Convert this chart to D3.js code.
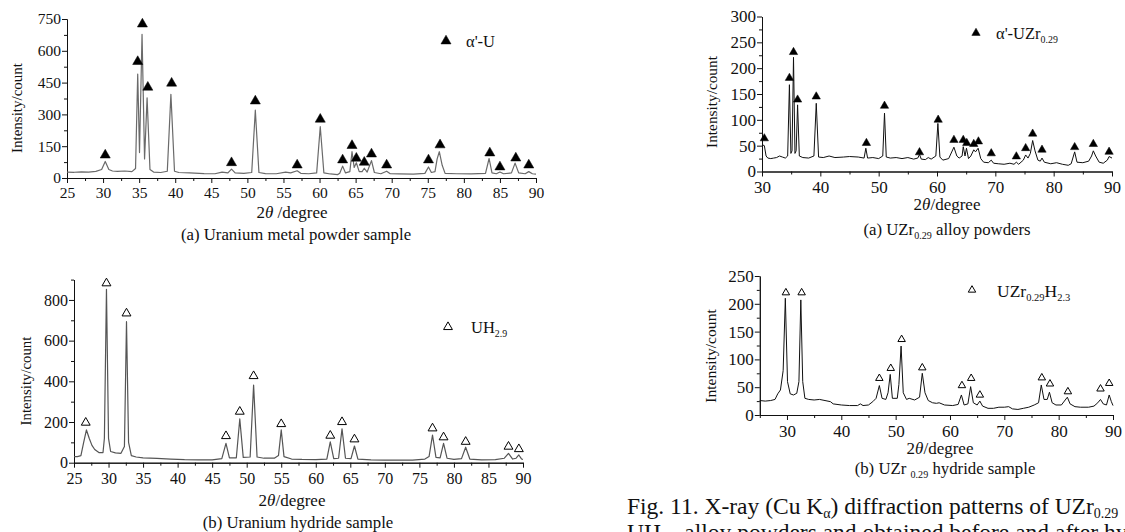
<!DOCTYPE html>
<html>
<head>
<meta charset="utf-8">
<script src="https://cdn.jsdelivr.net/npm/d3@7"></script>
<style>
body { margin: 0; background: #fff; }
svg text { font-family: "Liberation Serif", "DejaVu Serif", serif; fill: #111; }
</style>
</head>
<body>
<script>
// traced diffraction profiles, [2theta, intensity]
var uMetal = [[25,28],[26,27],[27,29],[28,28],[29,31],[29.8,40],[30.3,78],[30.8,40],[31.3,33],[32,31],[33,33],[34,30],[34.5,45],[34.8,490],[35.05,120],[35.4,678],[35.75,90],[36.1,378],[36.5,40],[37,28],[38,26],[38.9,32],[39.4,395],[39.9,32],[40.5,26],[42,24],[44,21],[45.5,20],[46.5,28],[47.3,24],[47.8,42],[48.3,24],[49.5,22],[50.6,26],[51.1,320],[51.6,26],[52.5,21],[54,20],[55.3,28],[56,24],[56.9,34],[57.4,22],[58.5,20],[59.6,24],[60.1,242],[60.6,24],[61.5,19],[62.5,16],[62.8,22],[63.2,56],[63.6,24],[64.2,30],[64.5,124],[64.8,50],[65.1,72],[65.5,30],[65.9,30],[66.2,46],[66.6,28],[67.2,82],[67.6,26],[68.5,20],[69.3,32],[69.8,20],[71,19],[73,18],[74.6,22],[75.1,52],[75.5,26],[76,30],[76.3,90],[76.6,124],[77,60],[77.4,22],[79,20],[81,19],[83,22],[83.5,92],[83.9,24],[84.5,20],[85,28],[85.5,20],[86.6,24],[87.1,70],[87.6,24],[88.5,20],[89,30],[89.5,20],[90,18]];
var uMetalPeaks = [[30.3,108],[34.8,549],[35.45,726],[36.2,428],[39.5,447],[47.8,72],[51.1,363],[56.9,61],[60.1,277],[63.2,85],[64.5,153],[65.1,93],[66.2,74],[67.2,113],[69.3,61],[75.1,85],[76.7,156],[83.6,118],[85.0,52],[87.2,94],[89.0,61]];

var uHydride = [[25,30],[25.5,30],[26,35],[26.4,100],[26.8,161],[27.2,120],[27.6,85],[28,65],[28.6,50],[29.2,50],[29.4,120],[29.7,852],[30.0,120],[30.3,55],[31,48],[31.8,46],[32.3,80],[32.6,693],[32.9,100],[33.3,35],[34,28],[35,24],[37,21],[39,18],[41,15],[43,14],[45,14],[46.4,20],[47,95],[47.5,24],[48.5,24],[49,215],[49.5,26],[50.5,28],[51,382],[51.5,28],[52.5,22],[54,22],[54.6,35],[55,161],[55.4,30],[56.5,18],[58,16],[60,15],[61.6,18],[62.1,102],[62.6,20],[63.3,22],[63.8,166],[64.3,22],[65.1,20],[65.6,82],[66.1,18],[68,14],[70,13],[72,13],[74,13],[75.8,18],[76.4,30],[76.9,136],[77.4,26],[78,24],[78.5,95],[79,22],[80,16],[81.1,20],[81.7,76],[82.3,18],[84,14],[86,15],[87.3,22],[87.9,46],[88.5,18],[89,22],[89.4,38],[89.8,18],[90,16]];
var uHydridePeaks = [[26.7,197],[29.7,882],[32.6,734],[47.0,131],[49.0,251],[51.0,426],[55.0,190],[62.1,133],[63.8,200],[65.6,115],[76.9,169],[78.5,125],[81.7,103],[87.9,79],[89.4,67]];

var alloy = [[30,52],[30.4,50],[30.7,30],[31,26],[31.5,25],[32,26],[32.5,27],[33,30],[33.5,28],[34,26],[34.4,30],[34.7,168],[34.95,35],[35.15,40],[35.4,221],[35.65,35],[35.85,40],[36.1,129],[36.4,30],[37,27],[38,26],[38.9,30],[39.3,132],[39.7,28],[40.5,27],[41.5,30],[42.5,27],[44,28],[45,29],[46.5,28],[47.5,26],[47.8,45],[48.1,26],[49,27],[50,25],[50.7,30],[51.0,113],[51.3,28],[52,26],[53,27],[54,25],[55,27],[56,24],[56.7,26],[57.0,33],[57.3,24],[58,23],[58.5,27],[59,24],[59.8,30],[60.15,93],[60.5,28],[61,22],[62,25],[62.9,47],[63.4,30],[63.8,26],[64.3,30],[64.5,48],[64.8,30],[65.05,45],[65.4,25],[65.8,30],[66.3,42],[66.6,38],[67.05,45],[67.5,25],[68,18],[68.8,17],[69.3,22],[69.7,16],[70.5,15],[71.5,14],[72.5,16],[73.2,14],[73.6,18],[74,14],[74.8,22],[75.2,32],[75.6,26],[76.0,35],[76.4,60],[76.8,40],[77.3,22],[77.7,20],[78.0,26],[78.4,18],[79.5,15],[80.5,17],[81.5,14],[82.5,12],[83.0,15],[83.6,38],[84.0,18],[85,17],[86,20],[86.5,30],[86.8,40],[87.2,30],[87.8,18],[88.5,16],[89.2,22],[89.5,29],[90,26]];
var alloyPeaks = [[30.4,64],[34.7,181],[35.4,231],[36.1,139],[39.3,145],[47.9,55],[51.0,127],[57.0,37],[60.2,100],[62.9,61],[64.5,61],[65.1,55],[66.3,53],[67.1,58],[69.3,35],[73.6,29],[75.2,45],[76.4,73],[78.0,42],[83.6,47],[86.8,53],[89.5,38]];

var alloyHydride = [[25,26],[26,25],[27,26],[27.8,28],[28.3,38],[28.8,45],[29.3,80],[29.7,210],[30.1,60],[30.6,38],[31.2,36],[31.8,39],[32.2,60],[32.55,207],[32.9,60],[33.3,30],[34,28],[35,27],[36,28],[37,26],[38,24],[38.5,20],[40,18],[41.5,17],[43,17],[43.5,20],[44,17],[45,18],[45.8,24],[46.4,30],[47.0,53],[47.5,30],[48.2,28],[48.6,40],[49.0,73],[49.4,30],[50.3,30],[50.6,55],[51.0,124],[51.4,40],[52,28],[52.5,30],[53.5,27],[54.4,32],[54.9,75],[55.4,40],[56,26],[56.8,22],[57.5,21],[58,22],[59,18],[60.5,17],[61.5,19],[62.1,36],[62.6,18],[63.3,20],[63.8,51],[64.3,22],[65,18],[65.5,25],[66,16],[67,12],[68,12],[69,14],[70,14],[70.8,15],[71.5,11],[72.5,10],[73.5,12],[74.5,14],[75.5,18],[76.3,22],[76.8,54],[77.3,28],[77.9,28],[78.3,41],[78.8,22],[79.5,18],[80.5,18],[81.6,32],[82.1,20],[83,15],[84,14],[85.5,14],[86.5,16],[87.2,22],[87.7,28],[88.2,20],[88.8,18],[89.3,36],[89.7,24],[90,17]];
var alloyHydridePeaks = [[29.8,220],[32.7,220],[47.0,66],[49.1,84],[51.1,136],[54.9,85],[62.2,53],[63.9,66],[65.5,36],[76.9,67],[78.4,56],[81.7,42],[87.7,47],[89.3,57]];

// axis ticks
var ticksA = { x: [25,30,35,40,45,50,55,60,65,70,75,80,85,90], y: [0,150,300,450,600,750] };
var ticksB = { x: [25,30,35,40,45,50,55,60,65,70,75,80,85,90], y: [0,200,400,600,800] };
var ticksC = { x: [30,40,50,60,70,80,90], y: [0,50,100,150,200,250,300] };
var ticksD = { x: [30,40,50,60,70,80,90], y: [0,50,100,150,200,250] };

var svg = d3.select("body").append("svg")
    .attr("width", 1125)
    .attr("height", 532);

function midpoints(t, lo, hi) {
    var out = [];
    var step = t[1] - t[0];
    for (var v = t[0] - step / 2; v <= hi + 1e-9; v += step) {
        if (v >= lo - 1e-9) out.push(+v.toFixed(3));
    }
    return out.filter(function(v) { return t.indexOf(v) < 0; });
}

function addParts(el, parts, size) {
    parts.forEach(function(s) {
        var ts = el.append("tspan").text(s[0]);
        if (s[1]) ts.attr("font-size", size * 0.6).attr("dy", 3.5);
        else if (s[2]) ts.attr("dy", -3.5);
    });
}

function drawPanel(p) {
    var x = d3.scaleLinear().domain(p.xDomain).range(p.xRange),
        y = d3.scaleLinear().domain(p.yDomain).range(p.yRange),
        g = svg.append("g");

    var xMinor = midpoints(p.ticks.x, p.xDomain[0], p.xDomain[1]),
        yMinor = midpoints(p.ticks.y, p.yDomain[0], p.yDomain[1]);

    g.append("g")
        .attr("transform", "translate(0," + p.yRange[0] + ")")
        .call(d3.axisBottom(x).tickValues(xMinor).tickSize(3).tickSizeOuter(0).tickFormat(""));
    g.append("g")
        .attr("transform", "translate(" + p.xRange[0] + ",0)")
        .call(d3.axisLeft(y).tickValues(yMinor).tickSize(3).tickSizeOuter(0).tickFormat(""));

    var xa = g.append("g")
        .attr("transform", "translate(0," + p.yRange[0] + ")")
        .call(d3.axisBottom(x).tickValues(p.ticks.x).tickSize(5).tickSizeOuter(0).tickPadding(p.xPad));
    var ya = g.append("g")
        .attr("transform", "translate(" + p.xRange[0] + ",0)")
        .call(d3.axisLeft(y).tickValues(p.ticks.y).tickSize(5).tickSizeOuter(0).tickPadding(1));

    g.selectAll(".domain, .tick line").attr("stroke", "#111").attr("stroke-width", 1);
    xa.selectAll("text").attr("font-size", p.tickFont).attr("font-family", "Liberation Serif").attr("fill", "#111");
    ya.selectAll("text").attr("font-size", p.tickFont).attr("font-family", "Liberation Serif").attr("fill", "#111");

    var line = d3.line()
        .x(function(d) { return x(d[0]); })
        .y(function(d) { return y(d[1]); });

    g.append("path")
        .datum(p.profile)
        .attr("d", line)
        .attr("fill", "none")
        .attr("stroke", p.color)
        .attr("stroke-width", p.lineWidth)
        .attr("stroke-linejoin", "round");

    var sym = d3.symbol().type(d3.symbolTriangle).size(p.markSize);
    g.selectAll(".mk")
        .data(p.peaks)
        .enter().append("path")
        .attr("class", "mk")
        .attr("d", sym)
        .attr("transform", function(d) { return "translate(" + x(d[0]) + "," + y(d[1]) + ")"; })
        .attr("fill", p.filled ? "#000" : "none")
        .attr("stroke", "#000")
        .attr("stroke-width", p.filled ? 0.5 : 1);

    // legend
    g.append("path")
        .attr("d", sym)
        .attr("transform", "translate(" + p.legend[0] + "," + p.legend[1] + ")")
        .attr("fill", p.filled ? "#000" : "none")
        .attr("stroke", "#000")
        .attr("stroke-width", p.filled ? 0.5 : 1);
    var lt = g.append("text")
        .attr("x", p.legend[2])
        .attr("y", p.legend[3])
        .attr("font-size", p.legendFont);
    addParts(lt, p.legendParts, p.legendFont);

    // axis titles
    g.append("text")
        .attr("transform", "translate(" + p.yTitle[0] + "," + p.yTitle[1] + ") rotate(-90)")
        .attr("text-anchor", "middle")
        .attr("font-size", p.yTitle[2])
        .text("Intensity/count");

    var xt = g.append("text")
        .attr("x", p.xTitle[0])
        .attr("y", p.xTitle[1])
        .attr("text-anchor", "middle")
        .attr("font-size", p.xTitle[2]);
    xt.append("tspan").text("2");
    xt.append("tspan").attr("font-style", "italic").text("\u03b8");
    xt.append("tspan").text(p.xTitleGap + "/degree");

    var cap = g.append("text")
        .attr("x", p.caption[0])
        .attr("y", p.caption[1])
        .attr("text-anchor", "middle")
        .attr("font-size", p.caption[2]);
    addParts(cap, p.captionParts, p.caption[2]);
}

drawPanel({
    xDomain: [25, 90], xRange: [67, 536],
    yDomain: [0, 750], yRange: [178, 19],
    ticks: ticksA, xPad: 4, tickFont: 15.5,
    profile: uMetal, peaks: uMetalPeaks, color: "#6a6a6a", lineWidth: 1.2,
    filled: true, markSize: 44,
    legend: [446, 41, 466, 47], legendFont: 16.5, legendParts: [["\u03b1'-U"]],
    yTitle: [22, 108, 15],
    xTitle: [292, 218, 17], xTitleGap: " ",
    caption: [296, 240, 16.8], captionParts: [["(a) Uranium metal powder sample"]]
});

drawPanel({
    xDomain: [25, 90], xRange: [74, 523],
    yDomain: [0, 900], yRange: [462.7, 279.6],
    ticks: ticksB, xPad: 5, tickFont: 16,
    profile: uHydride, peaks: uHydridePeaks, color: "#555", lineWidth: 1.2,
    filled: false, markSize: 34,
    legend: [448, 327, 471, 333], legendFont: 16.5, legendParts: [["UH"], ["2.9", true], ["", false, true]],
    yTitle: [31, 381, 14.8],
    xTitle: [292, 506, 17], xTitleGap: "",
    caption: [298, 528, 16.8], captionParts: [["(b) Uranium hydride sample"]]
});

drawPanel({
    xDomain: [30, 90], xRange: [762, 1112],
    yDomain: [0, 300], yRange: [171.5, 16.5],
    ticks: ticksC, xPad: 4, tickFont: 17,
    profile: alloy, peaks: alloyPeaks, color: "#111", lineWidth: 1,
    filled: true, markSize: 30,
    legend: [976, 33, 996, 39], legendFont: 16.5, legendParts: [["\u03b1'-UZr"], ["0.29", true], ["", false, true]],
    yTitle: [717, 102, 15.3],
    xTitle: [947, 210, 17], xTitleGap: "",
    caption: [947, 235, 16.8], captionParts: [["(a) UZr"], ["0.29", true], [" alloy powders", false, true]]
});

drawPanel({
    xDomain: [25, 90], xRange: [759.8, 1113],
    yDomain: [0, 250], yRange: [415, 276],
    ticks: ticksD, xPad: 5, tickFont: 17,
    profile: alloyHydride, peaks: alloyHydridePeaks, color: "#111", lineWidth: 1,
    filled: false, markSize: 24,
    legend: [972, 290, 997, 297], legendFont: 17.5, legendParts: [["UZr"], ["0.29", true], ["H", false, true], ["2.3", true]],
    yTitle: [716, 356, 15.6],
    xTitle: [940, 454, 17], xTitleGap: "",
    caption: [945, 474, 16.8], captionParts: [["(b) UZr "], ["0.29", true], [" hydride sample", false, true]]
});

// figure caption (runs off the right edge as in the source page)
var fig = svg.append("text").attr("x", 627).attr("y", 514).attr("font-size", 23.5);
fig.append("tspan").text("Fig.  11. X-ray (Cu K");
fig.append("tspan").attr("font-size", 14).attr("dy", 4).text("\u03b1");
fig.append("tspan").attr("dy", -4).text(") diffraction patterns of UZr");
fig.append("tspan").attr("font-size", 14).attr("dy", 4).text("0.29");
var fig2 = svg.append("text").attr("x", 627).attr("y", 540).attr("font-size", 23.5);
fig2.append("tspan").text("UH");
fig2.append("tspan").attr("font-size", 14).attr("dy", 4).text("2.9");
fig2.append("tspan").attr("dy", -4).text(" alloy powders and obtained before and after hydriding");
</script>
</body>
</html>
